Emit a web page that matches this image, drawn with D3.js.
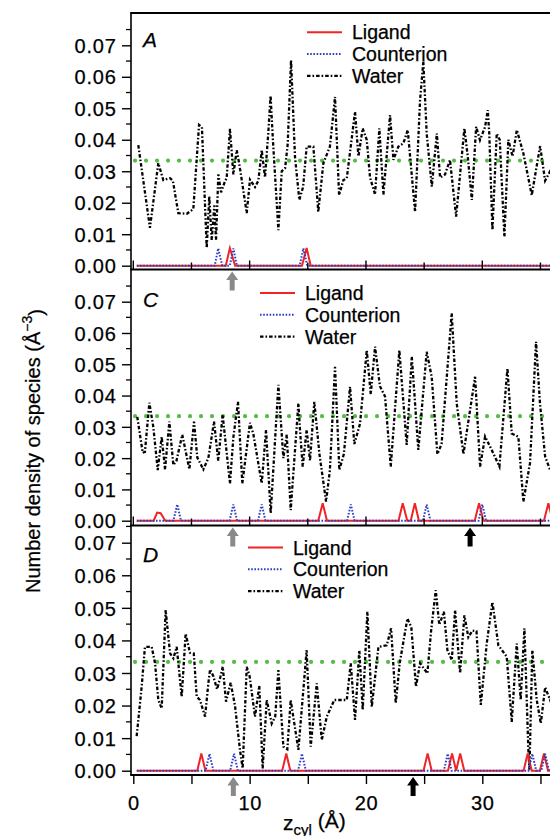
<!DOCTYPE html>
<html><head><meta charset="utf-8">
<script src="https://cdn.jsdelivr.net/npm/d3@7"></script>
<style>
body{margin:0;background:#fff}
svg{display:block}
text{font-family:"Liberation Sans",Arial,Helvetica,sans-serif;fill:#000;stroke:#000;stroke-width:0.25px}
</style>
</head><body>
<svg id="chart" width="550" height="836"></svg>
<script>
// ---------------- data ----------------
const xTicks = [0, 10, 20, 30];
const xMinorTicks = [0, 5, 10, 15, 20, 25, 30, 35];
const yTicks = [0, 0.01, 0.02, 0.03, 0.04, 0.05, 0.06, 0.07];
const yMinorTicks = [0.005, 0.015, 0.025, 0.035, 0.045, 0.055, 0.065, 0.075];
const seriesNames = ["Ligand", "Counterion", "Water"];
const panelNames = ["A", "C", "D"];
const bulkWater = 0.0334;

const waterA = [[0.43,0.0383],[1.43,0.012],[2.15,0.0326],[2.58,0.0272],[3.15,0.0278],[3.4,0.027],[3.87,0.0167],[4.6,0.0165],[5.16,0.018],[5.65,0.0447],[5.9,0.044],[6.31,0.0056],[6.53,0.022],[6.74,0.0082],[6.97,0.0192],[7.11,0.0082],[7.31,0.029],[7.54,0.0233],[7.8,0.026],[8.03,0.028],[8.31,0.0435],[8.6,0.029],[8.89,0.0367],[9.1,0.0325],[9.32,0.0273],[9.75,0.0167],[10.03,0.0273],[10.46,0.025],[10.75,0.027],[11.04,0.0367],[11.32,0.028],[11.6,0.042],[11.8,0.054],[12.0,0.04],[12.18,0.029],[12.47,0.0113],[12.76,0.030],[13.05,0.031],[13.27,0.0385],[13.56,0.0653],[13.9,0.0345],[14.27,0.0209],[14.6,0.0251],[14.9,0.0378],[15.48,0.0378],[15.9,0.0171],[16.34,0.0326],[16.9,0.0378],[17.34,0.0536],[17.69,0.0224],[18.06,0.0272],[18.35,0.0277],[19.06,0.0489],[19.35,0.0347],[19.72,0.0436],[20.07,0.0399],[20.35,0.028],[20.78,0.0226],[21.15,0.0436],[21.5,0.0226],[22.07,0.0478],[22.36,0.0336],[22.78,0.0378],[23.22,0.0389],[23.59,0.0431],[24.22,0.0171],[24.65,0.0526],[24.93,0.0648],[25.22,0.042],[25.66,0.0251],[26.09,0.042],[26.37,0.028],[26.8,0.029],[27.22,0.0336],[27.75,0.0156],[28.46,0.0436],[28.75,0.0347],[29.1,0.0209],[29.47,0.0441],[29.8,0.0399],[30.24,0.0441],[30.47,0.0494],[30.6,0.042],[30.87,0.0113],[31.24,0.042],[31.5,0.04],[31.9,0.0092],[32.24,0.04],[32.6,0.0347],[32.97,0.0431],[33.53,0.0357],[34.25,0.0224],[34.97,0.038],[35.4,0.027],[35.83,0.030],[36.2,0.028]];
const ligandA = [[0.3,0],[7.95,0],[8.3,0.0056],[8.75,0],[14.5,0],[14.9,0.0056],[15.25,0],[36.2,0]];
const counterA = [[0.3,0],[7.0,0],[7.3,0.0055],[7.65,0],[8.3,0],[8.6,0.0055],[8.9,0],[14.3,0],[14.62,0.0055],[14.95,0],[36.2,0]];

const waterC = [[0.34,0.0332],[0.81,0.0217],[1.0,0.022],[1.38,0.0377],[1.72,0.030],[2.1,0.0162],[2.44,0.0268],[2.73,0.0164],[3.1,0.0317],[3.44,0.0178],[3.7,0.019],[4.21,0.0275],[4.82,0.0164],[5.22,0.0317],[5.5,0.0202],[6.02,0.0164],[6.45,0.02],[6.94,0.0317],[7.3,0.0192],[7.68,0.0338],[8.31,0.0119],[8.6,0.0266],[9.0,0.038],[9.37,0.0119],[10.03,0.0313],[10.32,0.0277],[11.04,0.0119],[11.41,0.029],[11.81,0.0024],[12.47,0.0434],[12.9,0.02],[13.19,0.0275],[13.53,0.0034],[14.19,0.0375],[14.33,0.029],[14.56,0.0173],[14.9,0.029],[15.19,0.0192],[15.56,0.038],[16.0,0.0213],[16.57,0.0061],[16.9,0.0162],[17.34,0.0492],[17.71,0.0162],[18.1,0.0213],[18.63,0.0428],[19.0,0.0245],[19.49,0.031],[20.07,0.0545],[20.41,0.0404],[20.78,0.0556],[21.2,0.043],[21.64,0.0397],[22.13,0.0173],[22.87,0.0545],[23.5,0.0242],[23.94,0.0524],[24.5,0.0226],[25.22,0.054],[25.65,0.046],[26.14,0.0213],[26.5,0.0245],[27.37,0.0663],[27.8,0.0375],[28.38,0.0213],[29.38,0.046],[29.81,0.0173],[30.24,0.0269],[30.81,0.0226],[31.47,0.0173],[32.16,0.0487],[32.53,0.0279],[33.1,0.0268],[33.53,0.0061],[34.1,0.0184],[34.62,0.0572],[34.96,0.0374],[35.4,0.0205],[35.83,0.0162],[36.2,0.02]];
const ligandC = [[0.3,0],[1.75,0],[2.05,0.0026],[2.35,0.0024],[2.75,0],[15.9,0],[16.28,0.0056],[16.65,0],[22.8,0],[23.16,0.0056],[23.55,0],[23.85,0],[24.2,0.0056],[24.55,0],[29.35,0],[29.72,0.0056],[30.1,0],[35.3,0],[35.68,0.0056],[36.05,0],[36.2,0]];
const counterC = [[0.3,0],[3.45,0],[3.78,0.0052],[4.1,0],[8.28,0],[8.6,0.0052],[8.92,0],[10.72,0],[11.04,0.0052],[11.36,0],[18.38,0],[18.7,0.0052],[19.02,0],[24.9,0],[25.22,0.0052],[25.54,0],[29.68,0],[30.0,0.0052],[30.32,0],[36.2,0]];

const waterD = [[0.29,0.0106],[0.72,0.0258],[1.0,0.038],[1.58,0.038],[1.87,0.033],[2.15,0.0217],[2.44,0.0191],[2.78,0.0493],[3.16,0.036],[3.45,0.0345],[3.73,0.038],[4.16,0.0227],[4.5,0.0421],[4.87,0.0362],[5.2,0.036],[5.45,0.0227],[5.73,0.0217],[6.17,0.0166],[6.45,0.0268],[6.6,0.0311],[6.88,0.029],[7.2,0.025],[7.5,0.029],[7.69,0.0319],[7.97,0.0212],[8.37,0.027],[8.74,0.02],[9.17,0.0064],[9.4,0.0007],[9.75,0.0319],[10.0,0.029],[10.46,0.0166],[10.83,0.026],[11.12,0.0007],[11.47,0.0217],[11.9,0.0145],[12.2,0.0166],[12.47,0.0309],[12.9,0.0074],[13.24,0.0066],[13.53,0.0217],[14.19,0.0064],[14.9,0.037],[15.25,0.0074],[15.77,0.0268],[16.2,0.0094],[16.63,0.0166],[17.28,0.0217],[18.35,0.0217],[18.69,0.033],[19.06,0.0156],[19.43,0.037],[19.72,0.0186],[20.12,0.0488],[20.5,0.0196],[21.07,0.038],[21.79,0.0385],[22.16,0.0437],[22.56,0.0207],[22.9,0.033],[23.56,0.0467],[23.9,0.044],[24.3,0.0258],[24.65,0.033],[25.28,0.0299],[25.6,0.043],[26.0,0.0554],[26.3,0.0448],[26.7,0.0488],[27.0,0.037],[27.38,0.034],[27.66,0.0493],[28.09,0.0299],[28.46,0.0477],[28.8,0.041],[29.15,0.043],[29.5,0.0428],[29.87,0.0202],[30.38,0.039],[30.87,0.0518],[31.38,0.0385],[32.1,0.035],[32.53,0.015],[32.96,0.039],[33.3,0.0217],[33.62,0.0437],[33.96,0.0064],[34.05,0.0003],[34.3,0.037],[34.68,0.0217],[35.03,0.0145],[35.4,0.0256],[35.83,0.0217],[36.2,0.024]];
const ligandD = [[0.3,0],[5.5,0],[5.85,0.0053],[6.2,0],[12.8,0],[13.15,0.0053],[13.5,0],[24.95,0],[25.3,0.0053],[25.65,0],[27.05,0],[27.4,0.0053],[27.75,0],[28.1,0.0053],[28.45,0],[33.55,0],[33.9,0.0053],[34.25,0],[34.95,0],[35.3,0.0053],[35.65,0],[36.2,0]];
const counterD = [[0.3,0],[6.22,0],[6.55,0.0052],[6.88,0],[8.33,0],[8.66,0.0052],[8.99,0],[14.17,0],[14.5,0.0052],[14.83,0],[26.7,0],[27.03,0.0052],[27.36,0],[33.97,0],[34.3,0.0052],[34.63,0],[35.07,0],[35.4,0.0052],[35.73,0],[36.2,0]];

const arrowsA = [{x:8.5, kind:"gray"}];
const arrowsC = [{x:8.55, kind:"gray"}, {x:28.95, kind:"black"}];
const arrowsD = [{x:8.6, kind:"gray"}, {x:24.05, kind:"black"}];

// ---------------- layout / style ----------------
const colors = {Ligand:"#f02424", Counterion:"#2f3fc4", Water:"#000000", bulk:"#55bd45", gray:"#8a8a8a", black:"#000"};
const axisLeft = 131;
const rightEdge = 552;
const x = d3.scaleLinear().domain([0, 30]).range([133.3, 482.3]);

const panels = [
  {name:panelNames[0], water:waterA, ligand:ligandA, counter:counterA, arrows:arrowsA,
   top:13, bottom:269.5, y0:265.7, y7:45.3, legX:307, legY:32.3, labY:47, arrowTip:271.5, last:false, topLine:true},
  {name:panelNames[1], water:waterC, ligand:ligandC, counter:counterC, arrows:arrowsC,
   top:269.5, bottom:525.5, y0:520.7, y7:301.7, legX:260, legY:293, labY:306.5, arrowTip:527.5, last:false, topLine:false},
  {name:panelNames[2], water:waterD, ligand:ligandD, counter:counterD, arrows:arrowsD,
   top:525.5, bottom:775, y0:770.7, y7:542.7, legX:248, legY:547.5, labY:562, arrowTip:777, last:true, topLine:false}
];

const svg = d3.select("#chart");
const defs = svg.append("defs");

const styles = {
  Ligand:{dash:null, width:2},
  Counterion:{dash:"1.6,1.6", width:2},
  Water:{dash:"3.5,2,1.6,2", width:2.3}
};

panels.forEach((p, i) => {
  const y = d3.scaleLinear().domain([0, 0.07]).range([p.y0, p.y7]);
  const g = svg.append("g");
  const clipId = "clip" + i;
  defs.append("clipPath").attr("id", clipId).append("rect")
    .attr("x", axisLeft + 1).attr("y", p.top + 1)
    .attr("width", rightEdge - axisLeft).attr("height", p.bottom - p.top - 2);

  const plot = g.append("g").attr("clip-path", `url(#${clipId})`);
  const line = d3.line().x(d => x(d[0])).y(d => y(d[1])).curve(d3.curveLinear);

  // bulk water density
  plot.append("line")
    .attr("x1", x(0.15)).attr("x2", rightEdge)
    .attr("y1", y(bulkWater)).attr("y2", y(bulkWater))
    .attr("stroke", colors.bulk).attr("stroke-width", 4.2)
    .attr("stroke-linecap", "round").attr("stroke-dasharray", "0,11");

  plot.append("path").datum(p.water).attr("d", line).attr("fill", "none")
    .attr("stroke", colors.Water).attr("stroke-width", styles.Water.width)
    .attr("stroke-dasharray", styles.Water.dash);
  plot.append("path").datum(p.ligand).attr("d", line).attr("fill", "none")
    .attr("stroke", colors.Ligand).attr("stroke-width", styles.Ligand.width)
    .attr("stroke-linejoin", "miter");
  plot.append("path").datum(p.counter).attr("d", line).attr("fill", "none")
    .attr("stroke", colors.Counterion).attr("stroke-width", styles.Counterion.width)
    .attr("stroke-dasharray", styles.Counterion.dash);

  // frame lines
  g.append("line").attr("x1", axisLeft).attr("x2", axisLeft)
    .attr("y1", p.top).attr("y2", p.bottom)
    .attr("stroke", "#000").attr("stroke-width", 1.6);
  g.append("line").attr("x1", axisLeft - 0.8).attr("x2", rightEdge)
    .attr("y1", p.bottom).attr("y2", p.bottom)
    .attr("stroke", "#000").attr("stroke-width", 1.8);
  if (p.topLine) {
    g.append("line").attr("x1", axisLeft - 0.8).attr("x2", rightEdge)
      .attr("y1", p.top).attr("y2", p.top)
      .attr("stroke", "#000").attr("stroke-width", 1.8);
  }

  // y axis
  const yAxis = d3.axisLeft(y).tickValues(yTicks).tickSize(9).tickPadding(6)
    .tickFormat(d3.format(".2f"));
  const ya = g.append("g").attr("transform", `translate(${axisLeft},0)`).call(yAxis);
  ya.select(".domain").remove();
  ya.selectAll(".tick line").attr("stroke-width", 1.4);
  ya.selectAll(".tick text").style("font-size", "20px").style("letter-spacing", "0.8px")
    .attr("dy", "0.36em").attr("dx", "0.6px");
  const minor = yMinorTicks.filter(v => y(v) >= p.top - 0.5);
  g.append("g").selectAll("line").data(minor).join("line")
    .attr("x1", axisLeft - 5).attr("x2", axisLeft)
    .attr("y1", d => y(d)).attr("y2", d => y(d))
    .attr("stroke", "#000").attr("stroke-width", 1.3);

  // x ticks
  if (!p.last) {
    g.append("g").selectAll("line").data(xMinorTicks).join("line")
      .attr("x1", d => x(d)).attr("x2", d => x(d))
      .attr("y1", p.bottom).attr("y2", d => p.bottom - (d % 10 === 0 ? 9 : 7))
      .attr("stroke", "#000").attr("stroke-width", 1.4);
  } else {
    const xAxis = d3.axisBottom(x).tickValues(xMinorTicks).tickSize(9).tickPadding(12)
      .tickFormat(d => xTicks.includes(d) ? d : "");
    const xa = g.append("g").attr("transform", `translate(0,${p.bottom})`).call(xAxis);
    xa.select(".domain").remove();
    xa.selectAll(".tick line").attr("stroke-width", 1.4);
    xa.selectAll(".tick text").style("font-size", "20px").style("letter-spacing", "0.6px");
  }

  // panel label
  g.append("text").attr("x", 143).attr("y", p.labY)
    .style("font-size", "21px").style("font-style", "italic").text(p.name);

  // legend
  const leg = g.append("g").attr("transform", `translate(${p.legX},${p.legY})`);
  seriesNames.forEach((s, k) => {
    const row = leg.append("g").attr("transform", `translate(0,${k * 21.8})`);
    row.append("line").attr("x1", 0).attr("x2", 35).attr("y1", 0).attr("y2", 0)
      .attr("stroke", colors[s]).attr("stroke-width", styles[s].width)
      .attr("stroke-dasharray", styles[s].dash);
    row.append("text").attr("x", 45).attr("y", 7).style("font-size", "19.5px").text(s);
  });

  // arrows (pointing up at the panel's axis)
  const arrowPath = "M0,0 L6,8.5 L2.5,8.5 L2.5,19 L-2.5,19 L-2.5,8.5 L-6,8.5 Z";
  g.append("g").selectAll("path").data(p.arrows).join("path")
    .attr("transform", d => `translate(${x(d.x)},${p.arrowTip})`)
    .attr("d", arrowPath).attr("fill", d => colors[d.kind]);
});

// y-axis title
const yt = svg.append("text")
  .attr("transform", "translate(39.5,593) rotate(-90)")
  .attr("text-anchor", "start").style("font-size", "20px");
yt.append("tspan").text("Number density of species (Å");
yt.append("tspan").attr("dy", "-0.55em").style("font-size", "14px").text("−3");
yt.append("tspan").attr("dy", "0.55em").text(")");

// x-axis title
const xt = svg.append("text").attr("x", 283).attr("y", 830).style("font-size", "21px");
xt.append("tspan").text("z");
xt.append("tspan").attr("dy", "0.3em").style("font-size", "15px").text("cyl");
xt.append("tspan").attr("dy", "-0.3em").text(" (Å)");
</script>
</body></html>
